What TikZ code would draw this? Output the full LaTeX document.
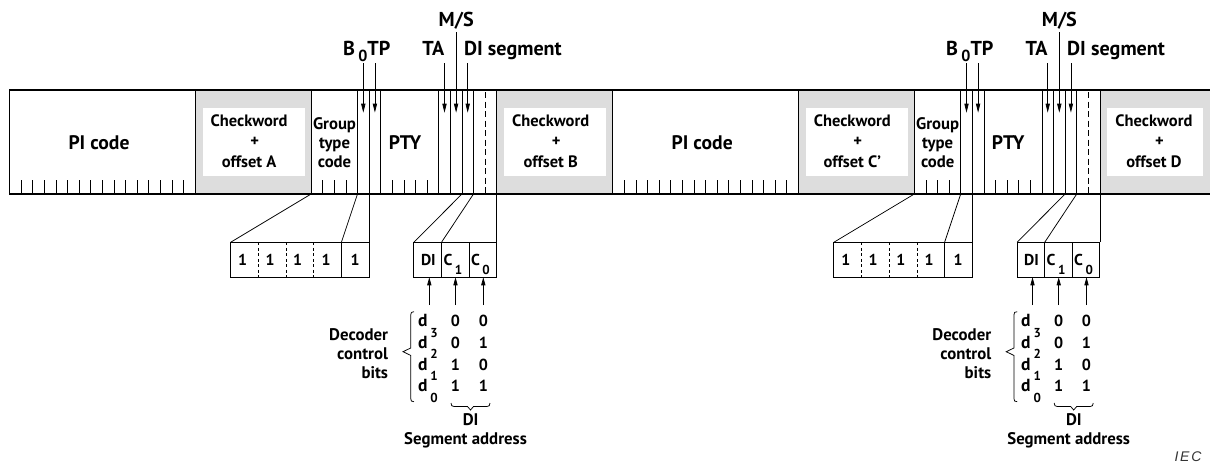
\documentclass[tikz,border=0pt]{standalone}
\usepackage{fontspec}
\setmainfont{PT Sans}
\newfontfamily\iecfont[LetterSpace=12]{Liberation Sans}
\usetikzlibrary{arrows.meta}
\definecolor{cwgrey}{RGB}{221,221,221}
\newcommand\fsz[2]{\fontsize{#1}{#2}\selectfont}
\newcommand\lsub[3]{\,\raisebox{-#1pt}{\fsz{#2}{#2}#3}}
\newlength\fitlen
\newcommand\fitfont[3]{%
  \fontsize{10pt}{12pt}\selectfont
  \settowidth\fitlen{#1}%
  \pgfmathsetmacro\fitsz{10*#2/\fitlen}%
  \fontsize{\fitsz pt}{#3pt}\selectfont}
\tikzset{
  every node/.style={inner sep=0pt, outer sep=0pt},
  stripline/.style={line width=1.2pt},
  fline/.style={line width=0.75pt},
  tickline/.style={line width=0.6pt},
  dashedline/.style={line width=0.75pt, dash pattern=on 6pt off 3.5pt},
  smalldash/.style={line width=0.75pt, dash pattern=on 3pt off 2.5pt},
  arrowdown/.style={line width=0.75pt, -{Triangle[length=9pt,width=4.2pt]}},
  arrowup/.style={line width=0.75pt, -{Triangle[length=8pt,width=4.2pt]}},
  bigtxt/.style={font={\bfseries\fitfont{PI code}{61}{22}}},
  cwtxt/.style={font={\bfseries\fitfont{Checkword}{77}{20.5}}, align=center},
  gttxt/.style={font={\bfseries\fitfont{Group}{43}{19.2}}, align=center},
  toplbl/.style={font={\bfseries\fitfont{DI segment}{97.7}{22}}, anchor=base west},
  celltxt/.style={font={\bfseries\fitfont{DI}{14.7}{18}}},
  rowtxt/.style={font=\bfseries\fsz{16}{18}, anchor=base},
  dtxt/.style={font=\bfseries\fsz{17.5}{18}, anchor=base west},
  smalltxt/.style={font={\bfseries\fitfont{Segment address}{122.7}{19}}},
  boxshape/.style={draw, line width=0.9pt, minimum height=35pt},
}
\begin{document}
\begin{tikzpicture}[x=1pt,y=-1pt]
\useasboundingbox (0,0) rectangle (1210,464);
% checkword fills
\foreach \cx in {195.1,496.7,798.3}{
  \fill[cwgrey] (\cx,90) rectangle (\cx+116,194);
  \fill[white] (\cx+7.5,108) rectangle (\cx+109.5,176);
}
\fill[cwgrey] (1099.9,90) rectangle (1210,194);
\fill[white] (1107.4,108) rectangle (1203.3,176);

\foreach \p/\s/\cw in {a/0/A,b/603.2/C'}{
\begin{scope}[xshift=\s]
  \foreach \vx in {9.5,195.1,311.1,357.5,369.1,380.7,438.7,450.3,461.9,473.5,496.7}
    \draw[fline] (\vx,90) -- (\vx,194);
  \draw[dashedline] (485.1,92) -- (485.1,194);
  \foreach \k in {1,...,15} \draw[tickline] (9.5+11.6*\k,180) -- (9.5+11.6*\k,194);
  \foreach \tx in {322.7,334.3,345.9,392.3,403.9,415.5,427.1}
    \draw[tickline] (\tx,180) -- (\tx,194);
  % strip texts
  \node[bigtxt] (\p-pi) at (99,143) {PI code};
  \node[cwtxt] (\p-cw) at (249.1,141) {Checkword\\\kern11pt+\\offset \cw};
  \node[gttxt] (\p-gt) at (334.5,142.5) {Group\\type\\code};
  \node[bigtxt] (\p-pty) at (405,143) {PTY};
  % top labels
  \node[toplbl] (\p-ms) at (438.7,26.7) {M/S};
  \node[toplbl] (\p-b0tp) at (343,55) {B\lsub{6.7}{16}{0}TP};
  \node[toplbl] (\p-ta) at (422.3,55) {TA};
  \node[toplbl] (\p-dis) at (464,55) {DI segment};
  % label arrows
  \foreach \n/\ax/\ay in {b0/363.3/63, tp/374.9/63, ta/444.5/63, ms/456.1/32, di/467.7/63}{
    \coordinate (\p-\n s) at (\ax,\ay);
    \coordinate (\p-\n e) at (\ax,112.7);
    \draw[arrowdown] (\p-\n s) -- (\p-\n e);
  }
  % group type box
  \node[boxshape, minimum width=138.5pt] (\p-gbox) at (299.85,259.8) {};
  \foreach \dx in {258.3,286.0,313.7} \draw[smalldash] (\dx,242.3) -- (\dx,277.3);
  \draw[fline] (341.4,242.3) -- (341.4,277.3);
  \foreach \i/\lx in {1/242.7,2/270,3/297.7,4/326,5/355}
    \node[celltxt] (\p-one\i) at (\lx,260) {1};
  \coordinate (\p-gtl) at (311.1,194);
  \coordinate (\p-b0l) at (357.5,194);
  \coordinate (\p-tpl) at (369.1,194);
  \coordinate (\p-gdiv) at (341.4,242.3);
  \draw[fline] (\p-gtl) -- (\p-gbox.north west);
  \draw[fline] (\p-b0l) -- (\p-gdiv);
  \draw[fline] (\p-tpl) -- (\p-gbox.north east);
  % DI box
  \node[boxshape, minimum width=82.8pt] (\p-dbox) at (455.3,259.8) {};
  \draw[fline] (441.5,242.3) -- (441.5,277.3);
  \draw[fline] (469.1,242.3) -- (469.1,277.3);
  \node[celltxt, anchor=base west] (\p-dil) at (421,265.5) {DI};
  \node[celltxt, anchor=base west] (\p-c1) at (443.5,265.5) {C\lsub{9}{13}{1}};
  \node[celltxt, anchor=base west] (\p-c0) at (471,265.5) {C\lsub{9}{13}{0}};
  \coordinate (\p-dil0) at (461.9,194);
  \coordinate (\p-c1l) at (473.5,194);
  \coordinate (\p-c0r) at (496.7,194);
  \coordinate (\p-ddiv) at (441.5,242.3);
  \draw[fline] (\p-dil0) -- (\p-dbox.north west);
  \draw[fline] (\p-c1l) -- (\p-ddiv);
  \draw[fline] (\p-c0r) -- (\p-dbox.north east);
  % up arrows
  \foreach \n/\ax in {1/429.3,2/455.5,3/483.3}{
    \coordinate (\p-us\n) at (\ax,305);
    \coordinate (\p-ue\n) at (\ax,277.3);
    \draw[arrowup] (\p-us\n) -- (\p-ue\n);
  }
  % decoder rows
  \foreach \r/\dy/\sb/\va/\vb in {1/326.7/3/0/0,2/348.3/2/0/1,3/370/1/1/0,4/391.7/0/1/1}{
    \node[dtxt] (\p-d\r) at (418,\dy) {d\lsub{10.5}{13}{\sb}};
    \node[rowtxt] (\p-x\r) at (455.5,\dy) {\va};
    \node[rowtxt] (\p-y\r) at (483.3,\dy) {\vb};
  }
  \draw[fline] (414,311.7) .. controls (411.5,311.7) and (410.7,312.5) .. (410.7,315)
    -- (410.7,348) -- (403,351.7) -- (410.7,355.4) -- (410.7,398.4)
    .. controls (410.7,401) and (411.5,401.7) .. (414,401.7);
  \node[smalltxt, align=right, anchor=east] (\p-dcb) at (388,353.3) {Decoder\\control\\bits};
  \draw[fline] (451,403) .. controls (451,405.5) and (452,406.5) .. (454,406.5)
    -- (467.5,406.5) -- (470.5,410) -- (473.5,406.5) -- (487,406.5)
    .. controls (489,406.5) and (490,405.5) .. (490,403);
  \node[smalltxt] (\p-dil2) at (470.7,419.3) {DI};
  \node[smalltxt] (\p-sa) at (465.5,440) {Segment address};
\end{scope}
}
\node[cwtxt] (cwb) at (550.7,141) {Checkword\\\kern11pt+\\offset B};
\node[cwtxt] (cwd) at (1153.9,141) {Checkword\\\kern11pt+\\offset D};
\draw[fline] (1099.9,90) -- (1099.9,194);
\draw[stripline] (1210,90) -- (9.5,90) -- (9.5,194) -- (1210,194);
\node[font=\iecfont\itshape\fsz{14}{16}, text=black!80] (iec) at (1188,456.7) {IEC};
\end{tikzpicture}
\end{document}
